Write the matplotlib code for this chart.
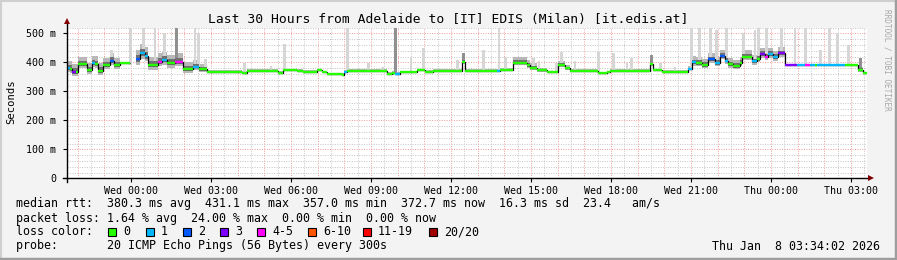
import numpy as np
import matplotlib
matplotlib.use("Agg")
import matplotlib.pyplot as plt
from matplotlib.lines import Line2D
from matplotlib.patches import Rectangle

W, H = 897, 260

title = "Last 30 Hours from Adelaide to [IT] EDIS (Milan) [it.edis.at]"

# median rtt as steps: start hour (rel. to Wed 00:00), ms, loss class, smoke spread
seg_start = [-2.40, -2.30, -2.22, -2.05, -1.98, -1.66, -1.47, -1.35, -1.23, -1.04,
             -0.79, -0.65, -0.41, -0.04, 0.19, 0.34, 0.53, 0.65, 1.02, 1.15,
             1.34, 1.65, 1.96, 2.34, 2.55, 2.84, 4.15, 4.34, 5.52, 5.71,
             6.21, 6.46, 6.96, 7.15, 7.34, 7.90, 8.00, 8.09, 9.59, 9.78, 9.90,
             10.09, 10.71, 11.03, 11.34, 12.40, 12.53, 13.71, 13.84, 14.34, 14.84,
             14.96, 15.21, 15.59, 16.03, 16.28, 16.46, 17.53, 17.84, 17.96, 19.46,
             19.59, 19.90, 20.90, 21.03, 21.20, 21.40, 21.65, 21.90, 22.09, 22.28,
             22.40, 22.59, 22.84, 22.90, 23.28, 23.46, 23.59, 23.78, 23.90, 24.09,
             24.28, 24.53, 24.96, 25.28, 25.46, 25.65, 25.72, 26.78, 27.28, 27.46]
seg_ms = [380, 378, 368, 368, 393, 373, 397, 395, 371, 391,
          406, 391, 399, np.nan, 410, 431, 422, 391, 402, 408,
          397, 402, 376, 385, 376, 368, 364, 370, 364, 372,
          370, 368, 372, 365, 359, 357, 368, 370, 360, 363, 360,
          366, 372, 368, 370, 402, 370, 371, 374, 399, 390,
          382, 372, 366, 391, 380, 370, 362, 366, 370, 394,
          372, 368, 378, 400, 398, 391, 410, 398, 422, 406,
          393, 388, 398, 420, 403, 412, 428, 420, 428, 418,
          431, 389, 389, 389, 389, 389, 389, 389, 374, 364]
seg_loss = [1, 0, 3, 0, 0, 0, 1, 0, 0, 0,
            2, 0, 0, 0, 2, 1, 1, 0, 4, 1,
            0, 4, 0, 1, 0, 0, 0, 0, 0, 0,
            0, 0, 0, 0, 0, 0, 1, 0, 0, 0, 1,
            0, 0, 0, 0, 0, 0, 1, 0, 0, 0,
            0, 0, 0, 0, 0, 0, 0, 0, 0, 0,
            0, 0, 1, 1, 0, 0, 2, 1, 2, 1,
            0, 0, 0, 0, 1, 0, 3, 4, 1, 1,
            3, 3, 1, 4, 1, 0, 1, 0, 0, 0]
seg_spread = [14, 14, 14, 14, 14, 14, 14, 14, 14, 14,
              14, 14, 14, 0, 18, 18, 18, 16, 16, 16,
              16, 16, 14, 12, 10, 3, 3, 3, 3, 3,
              3, 3, 3, 3, 3, 3, 3, 3, 3, 3, 3,
              3, 3, 3, 3, 8, 3, 3, 4, 10, 10,
              8, 5, 3, 8, 5, 3, 3, 3, 3, 6,
              3, 3, 5, 12, 12, 12, 12, 12, 12, 12,
              12, 12, 12, 12, 12, 12, 12, 12, 12, 12,
              12, 3, 3, 3, 3, 3, 3, 3, 6, 6]
t_end = 27.6

# single outlier spikes (hour, top in ms)
spike_h = [-0.74, -0.03, 0.48, 0.90, 1.25, 1.71, 2.40, 2.52, 2.80, 4.25,
           5.25, 5.75, 8.12, 8.90, 9.43, 9.93, 10.50, 10.97, 12.25, 12.46,
           13.22, 13.80, 14.05, 15.09, 15.30, 15.96, 16.15, 16.65, 17.53, 18.09,
           18.60, 18.78, 19.52, 19.85, 20.40, 21.02, 21.31, 21.72, 21.97, 22.34,
           22.96, 23.40, 23.52, 23.84, 24.40, 24.90, 25.30, 25.87, 26.18, 26.50,
           26.90, 27.35]
spike_top = [443, 518, 518, 518, 500, 518, 518, 500, 410, 397,
             388, 463, 518, 397, 385, 518, 414, 449, 408, 432,
             443, 518, 418, 414, 404, 397, 437, 404, 437, 432,
             397, 414, 425, 398, 385, 518, 518, 518, 510, 518,
             500, 510, 518, 518, 518, 518, 518, 443, 518, 500,
             459, 414]
spike_dark = [0, 0, 0, 0, 0, 1, 0, 0, 0, 0,
              0, 0, 0, 0, 0, 1, 0, 0, 0, 1,
              0, 0, 0, 0, 0, 0, 0, 0, 0, 0,
              0, 0, 1, 0, 0, 0, 0, 0, 0, 0,
              0, 0, 0, 0, 0, 0, 0, 0, 0, 0,
              0, 1]

loss_labels = ["0", "1", "2", "3", "4-5", "6-10", "11-19", "20/20"]
loss_colors = ["#26ff00", "#00b8ff", "#0059ff", "#7e00ff", "#ff00ff", "#ff5500", "#ff0000", "#a00000"]

xtick_h = [0, 3, 6, 9, 12, 15, 18, 21, 24, 27]
xtick_labels = ["Wed 00:00", "Wed 03:00", "Wed 06:00", "Wed 09:00", "Wed 12:00",
                "Wed 15:00", "Wed 18:00", "Wed 21:00", "Thu 00:00", "Thu 03:00"]
ytick_ms = [0, 100, 200, 300, 400, 500]
ytick_labels = ["0", "100 m", "200 m", "300 m", "400 m", "500 m"]

line_rtt = "median rtt:  380.3 ms avg  431.1 ms max  357.0 ms min  372.7 ms now  16.3 ms sd  23.4   am/s"
line_loss = "packet loss: 1.64 % avg  24.00 % max  0.00 % min  0.00 % now"
line_probe = "probe:       20 ICMP Echo Pings (56 Bytes) every 300s"
stamp = "Thu Jan  8 03:34:02 2026"

mono = "DejaVu Sans Mono"
fs = 8.4

fig = plt.figure(figsize=(W / 100, H / 100), dpi=100, facecolor="#f3f3f3")

def fx(x):
    return x / W

def fy(y):
    return 1 - y / H

# plot area in pixels
L, R, T, B = 67, 867, 27.5, 178.3
ax = fig.add_axes([fx(L), fy(B), (R - L) / W, (B - T) / H])
ax.set_facecolor("white")
ax.set_xlim(-2.4, t_end)
ax.set_ylim(0, 520)

# grid
grid_gray = "#c4c4c4"
grid_red = "#f29a9a"
for h in np.arange(-2.0, 27.6, 0.5):
    major = abs(h - round(h)) < 1e-6
    ax.axvline(h, color=grid_red if major else grid_gray, lw=0.7,
               ls=(0, (1, 1.5)), zorder=0)
for v in range(20, 521, 20):
    ax.axhline(v, color=grid_red if v % 100 == 0 else grid_gray, lw=0.7,
               ls=(0, (1, 1.5)), zorder=0)

edges = np.array(seg_start + [t_end])
ms = np.array(seg_ms, dtype=float)
spread = np.array(seg_spread, dtype=float)

# smoke
lo2 = np.append(ms - spread, np.nan)
hi2 = np.append(ms + 1.8 * spread, np.nan)
lo1 = np.append(ms - 0.5 * spread, np.nan)
hi1 = np.append(ms + 0.8 * spread, np.nan)
ax.fill_between(edges, lo2, hi2, step="post", color="#b8b8b8", lw=0, zorder=1)
ax.fill_between(edges, lo1, hi1, step="post", color="#707070", lw=0, zorder=2)

# spikes
for h, top, dark in zip(spike_h, spike_top, spike_dark):
    i = np.searchsorted(edges, h, side="right") - 1
    base = ms[i] if not np.isnan(ms[i]) else 390
    ax.bar(h, top - base, bottom=base, width=0.11,
           color="#909090" if dark else "#d6d6d6", lw=0, zorder=1.5)

# median line: black steps + loss colored pieces
ax.stairs(ms, edges, baseline=None, color="black", lw=0.9, zorder=3)
for i in range(len(ms)):
    if np.isnan(ms[i]):
        continue
    ax.hlines(ms[i], edges[i], edges[i + 1], color=loss_colors[seg_loss[i]],
              lw=1.7, zorder=4)

for s in ax.spines.values():
    s.set_visible(False)
ax.set_xticks(xtick_h)
ax.set_xticklabels(xtick_labels, family=mono, fontsize=7.2)
ax.set_yticks(ytick_ms)
ax.set_yticklabels(ytick_labels, family=mono, fontsize=7.2)
ax.tick_params(axis="x", length=3, width=0.8, pad=2.5, color="black")
ax.tick_params(axis="y", length=3, width=0.8, pad=5, color="black")

# axes lines with arrows
fig.add_artist(Line2D([fx(63), fx(869)], [fy(B), fy(B)], color="black", lw=1))
fig.add_artist(Line2D([fx(L), fx(L)], [fy(182), fy(22)], color="black", lw=1))
fig.add_artist(Line2D([fx(871)], [fy(B)], marker=">", color="#800000", ms=4, mew=0))
fig.add_artist(Line2D([fx(L)], [fy(21)], marker="^", color="#800000", ms=4, mew=0))

# texts
fig.text(fx(448), fy(19), title, family=mono, fontsize=9.4, ha="center", va="center")
fig.text(fx(11), fy(102), "Seconds", family=mono, fontsize=7.6, rotation=90,
         ha="center", va="center")
fig.text(fx(887), fy(60), "RRDTOOL / TOBI OETIKER", family=mono, fontsize=5.6,
         rotation=270, ha="center", va="center", color="#a8a8a8")

fig.text(fx(16), fy(204), line_rtt, family=mono, fontsize=fs, va="center")
fig.text(fx(16), fy(218.3), line_loss, family=mono, fontsize=fs, va="center")
fig.text(fx(16), fy(231.7), "loss color:", family=mono, fontsize=fs, va="center")
fig.text(fx(16), fy(246), line_probe, family=mono, fontsize=fs, va="center")
fig.text(fx(880), fy(246), stamp, family=mono, fontsize=fs, ha="right", va="center")

sw_x = [108, 145.7, 183, 220, 257.3, 308, 363, 429]
for x, lab, c in zip(sw_x, loss_labels, loss_colors):
    fig.add_artist(Rectangle((fx(x), fy(235.5)), 8 / W, 8 / H, facecolor=c,
                             edgecolor="black", lw=0.8))
    fig.text(fx(x + 15), fy(231.7), lab, family=mono, fontsize=fs, va="center")

# frame
fig.add_artist(Line2D([0, 1], [fy(0.5), fy(0.5)], color="#cfcfcf", lw=1.5))
fig.add_artist(Line2D([fx(0.5), fx(0.5)], [0, 1], color="#cfcfcf", lw=1.5))
fig.add_artist(Line2D([0, 1], [fy(259), fy(259)], color="#9e9e9e", lw=2.5))
fig.add_artist(Line2D([fx(896), fx(896)], [0, 1], color="#9e9e9e", lw=2.5))

fig.savefig("out.png", dpi=100, facecolor=fig.get_facecolor())
